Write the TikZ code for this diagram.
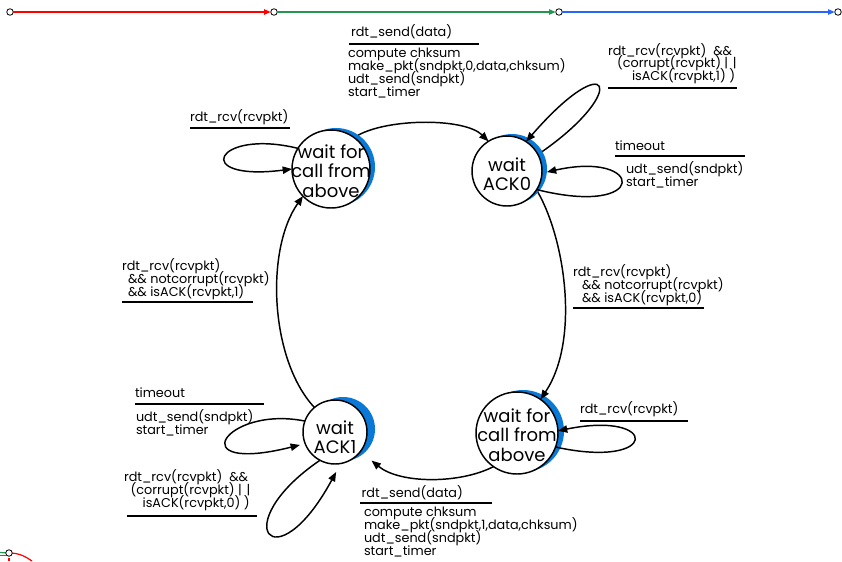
\documentclass[tikz,border=0pt]{standalone}
\usepackage{fontspec}
\setmainfont{Poppins}
\usetikzlibrary{arrows.meta}
\definecolor{tlred}{RGB}{255,0,0}
\definecolor{tlgreen}{RGB}{36,150,80}
\definecolor{tlblue}{RGB}{40,100,255}
\definecolor{shade}{RGB}{10,120,215}
\newcommand{\lblfont}{\fontsize{9.6}{9.7}\selectfont\lineskiplimit=-20pt\relax\lineskip=0pt\relax}
\newcommand{\oror}{|\hspace{3.5pt}|}
\begin{document}
\begin{tikzpicture}[x=0.75pt,y=-0.75pt,
  every node/.style={inner sep=0pt, outer sep=0pt},
  stc/.style={circle, draw, fill=white, line width=1.1pt},
  stb/.style={circle, fill=shade},
  sttxt/.style={align=center, font=\fontsize{13.5}{14.5}\selectfont},
  lbl/.style={anchor=base west, font=\lblfont, align=left},
  bar/.style={line width=1.6pt},
  tr/.style={line width=1.1pt, -{Triangle[length=7pt,width=5.5pt]}},
  tlc/.style={circle, draw, fill=white, line width=0.6pt, minimum size=4.9pt},
  tla/.style={line width=0.9pt, -{Triangle[length=5pt,width=4pt]}}
]
\useasboundingbox (0,0) rectangle (842,561);

% timeline
\node[tlc] (t0) at (10,12) {};
\node[tlc] (t1) at (274,12) {};
\node[tlc] (t2) at (559,12) {};
\node[tlc] (t3) at (838,12) {};
\draw[tla, tlred] (t0) -- (t1);
\draw[tla, tlgreen] (t1) -- (t2);
\draw[tla, tlblue] (t2) -- (t3);

% bottom-left fragment
\coordinate (b0c) at (9,553);
\coordinate (bg) at (0,552.5);
\coordinate (bb) at (0,555.5);
\coordinate (bbe) at (6,555.5);
\coordinate (br) at (32,561);
\coordinate (brt) at (9,558);
\coordinate (brb) at (9,561);
\draw[tlgreen, line width=0.9pt] (bg) -- (b0c);
\draw[tlblue, line width=0.9pt] (bb) -- (bbe);
\draw[tlred, line width=0.9pt] (b0c) .. controls (20,553) and (26,557) .. (br);
\draw[tlred, line width=0.9pt] (brt) -- (brb);
\node[tlc] (b0) at (b0c) {};

% blue crescents
\node[stb, minimum size=58.5pt] (s1b) at (336,167) {};
\node[stb, minimum size=52.5pt] (s2b) at (512,169) {};
\node[stb, minimum size=61.5pt] (s3b) at (523,431) {};
\node[stb, minimum size=48pt] (s4b) at (343,429) {};

% states
\node[stc, minimum size=58.5pt] (s1) at (331,169) {};
\node[stc, minimum size=52.5pt] (s2) at (507,171) {};
\node[stc, minimum size=61.5pt] (s3) at (517,433) {};
\node[stc, minimum size=48pt] (s4) at (335,432) {};

\node[sttxt] (s1t) at (331,171) {wait for\\call from\\above};
\node[sttxt] (s2t) at (507,174) {wait\\ACK0};
\node[sttxt] (s3t) at (517,435) {wait for\\call from\\above};
\node[sttxt] (s4t) at (335,437) {wait\\ACK1};

% transitions
\draw[tr] (s1b.55) .. controls (390,118) and (465,118) .. (s2.122);
\draw[tr] (s2b.-42) .. controls (565,240) and (580,340) .. (s3.55);
\draw[tr] (s3.-125) .. controls (460,484) and (400,484) .. ([shift={(12,8)}]s4.-40);
\draw[tr] (s4.130) .. controls (270,360) and (265,250) .. (s1.224);

% self loops
\draw[tr] (s1.148) .. controls (215,128) and (190,182) .. (s1.180);
\draw[tr] (s2.-32) .. controls (650,218) and (645,150) .. (s2b.-5);
\draw[tr] (s2b.30) .. controls (630,90) and (610,45) .. (s2.57);
\draw[tr] (s3.-20) .. controls (660,470) and (660,410) .. (s3.3);
\draw[tr] (s4.160) .. controls (225,405) and (180,475) .. ([shift={(-5,2)}]s4.200);
\draw[tr] (s4.-118) .. controls (225,525) and (275,585) .. ([shift={(0,8)}]s4.-88);

% labels (base = baseline of last line)
\node[lbl] (e1) at (351,36) {rdt\_send(data)};
\draw[bar] (349,44) -- (479,44);
\node[lbl] (a1) at (348,96.1) {compute chksum\\make\_pkt(sndpkt,0,data,chksum)\\udt\_send(sndpkt)\\start\_timer};

\node[lbl] (e2) at (608,80.9) {rdt\_rcv(rcvpkt)\ \ \&\&\\\hspace*{6.75pt}(corrupt(rcvpkt) \oror\\\hspace*{18pt}isACK(rcvpkt,1) )};
\draw[bar] (608,88) -- (737,88);

\node[lbl] (e3) at (615,150.7) {timeout};
\draw[bar] (615,156) -- (745,156);
\node[lbl] (a3) at (626,186.2) {udt\_send(sndpkt)\\start\_timer};

\node[lbl] (e4) at (573,302.6) {rdt\_rcv(rcvpkt)\\\hspace*{6.75pt}\&\& notcorrupt(rcvpkt)\\\hspace*{6.75pt}\&\& isACK(rcvpkt,0)};
\draw[bar] (573,308.3) -- (704,308.3);

\node[lbl] (e5) at (190,121.7) {rdt\_rcv(rcvpkt)};
\draw[bar] (190,128) -- (290,128);

\node[lbl] (e6) at (122,296) {rdt\_rcv(rcvpkt)\\\hspace*{4.5pt}\&\& notcorrupt(rcvpkt)\\\hspace*{4.5pt}\&\& isACK(rcvpkt,1)};
\draw[bar] (122,301.7) -- (252.7,301.7);

\node[lbl] (e7) at (135,397.3) {timeout};
\draw[bar] (135,404) -- (264,404);
\node[lbl] (a7) at (136,434.6) {udt\_send(sndpkt)\\start\_timer};

\node[lbl] (e8) at (124,507.8) {rdt\_rcv(rcvpkt)\ \ \&\&\\\hspace*{5pt}(corrupt(rcvpkt) \oror\\\hspace*{14pt}isACK(rcvpkt,0) )};
\draw[bar] (126.7,516) -- (256.7,516);

\node[lbl] (e9) at (580,413.3) {rdt\_rcv(rcvpkt)};
\draw[bar] (580,420.7) -- (688,420.7);

\node[lbl] (e10) at (361.7,497.3) {rdt\_send(data)};
\draw[bar] (360,502.7) -- (491.7,502.7);
\node[lbl] (a10) at (364,555.5) {compute chksum\\make\_pkt(sndpkt,1,data,chksum)\\udt\_send(sndpkt)\\start\_timer};
\end{tikzpicture}
\end{document}
